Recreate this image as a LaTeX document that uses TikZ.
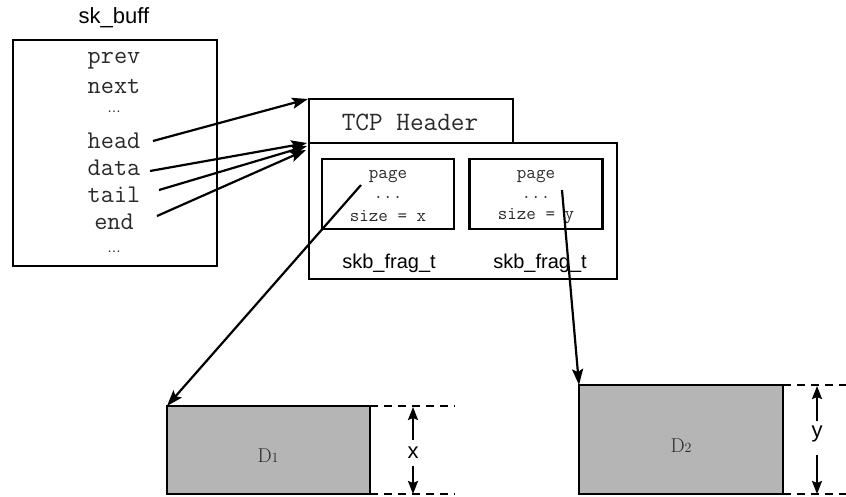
\documentclass[tikz,border=0pt]{standalone}
\usepackage{fontspec}
\setsansfont{Liberation Sans}
\usetikzlibrary{arrows.meta}
\definecolor{fieldtext}{HTML}{2A2A2A}
\definecolor{pagefill}{HTML}{B5B5B5}
\begin{document}
\begin{tikzpicture}[x=1pt,y=-1pt,line width=2.2pt,
  box/.style={draw=black,inner sep=0pt,outer sep=0pt},
  fld/.style={inner sep=0pt,text=fieldtext,font=\ttfamily\fontsize{25.5}{25.5}\selectfont},
  sfld/.style={inner sep=0pt,text=fieldtext,font=\ttfamily\fontsize{18.5}{18.5}\selectfont},
  captext/.style={inner sep=0pt,font=\sffamily\fontsize{20}{20}\selectfont},
  page/.style={box,fill=pagefill},
  ptr/.style={-{Stealth[length=16pt,width=11pt,inset=3pt]}},
  dimarrow/.style={-{Stealth[length=13pt,width=10pt,inset=2pt]}},
  guide/.style={dash pattern=on 8pt off 6pt,line width=1.8pt}]
\useasboundingbox (0,0) rectangle (846,496);

% sk_buff structure
\node[captext,font=\sffamily\fontsize{22}{22}\selectfont] (skblabel) at (114,18) {sk\_buff};
\node[box,minimum width=204pt,minimum height=226pt] (skb) at (115,153) {};
\node[fld] (prev) at (114,61) {prev};
\node[fld] (next) at (114,87) {next};
\node[fld,font=\sffamily\fontsize{14}{14}\selectfont] (dots1) at (114,112) {\dots};
\node[fld] (head) at (114,141) {head};
\node[fld] (data) at (114,168) {data};
\node[fld] (tail) at (114,195) {tail};
\node[fld] (end) at (114,222) {end};
\node[fld,font=\sffamily\fontsize{14}{14}\selectfont] (dots2) at (114,252) {\dots};

% linear data: header and fragment area
\node[box,minimum width=204pt,minimum height=44pt] (hdr) at (411,121) {};
\node[fld,font=\ttfamily\fontsize{26.5}{26.5}\selectfont] (hdrtext) at (410,122) {TCP Header};
\node[box,minimum width=308pt,minimum height=136pt] (frags) at (463,211) {};

\node[box,minimum width=132pt,minimum height=70pt] (frag1) at (388,194) {};
\node[sfld] (pg1text) at (388,177) {page};
\node[sfld] (dt1) at (388,197) {...};
\node[sfld] (sz1) at (388,216) {size = x};
\node[captext] (ft1) at (389,263) {skb\_frag\_t};

\node[box,minimum width=133pt,minimum height=70pt] (frag2) at (536,194) {};
\node[sfld] (pg2text) at (536,177) {page};
\node[sfld] (dt2) at (536,197) {...};
\node[sfld] (sz2) at (536,216) {size = y};
\node[captext] (ft2) at (540,263) {skb\_frag\_t};

% pointer origins
\coordinate (headptr) at (153,141);
\coordinate (dataptr) at (150,171);
\coordinate (tailptr) at (159,190);
\coordinate (endptr) at (157,216);
\coordinate (pg1) at (361,185);
\coordinate (pg2) at (562,190);

\draw[ptr] (headptr) -- ([xshift=-1pt]hdr.north west);
\draw[ptr] (dataptr) -- ([xshift=-2pt]frags.north west);
\draw[ptr] (tailptr) -- ([xshift=-2pt,yshift=-3pt]frags.north west);
\draw[ptr] (endptr) -- ([xshift=-3pt,yshift=-7pt]frags.north west);

% pages
\node[page,minimum width=203pt,minimum height=88pt] (d1) at (268.5,450) {};
\node[text=fieldtext,inner sep=0pt] (d1text) at (268,456) {\fontsize{20}{20}\selectfont D\fontsize{14}{14}\selectfont 1};
\node[page,minimum width=204pt,minimum height=109pt] (d2) at (681,439.5) {};
\node[text=fieldtext,inner sep=0pt] (d2text) at (681,446) {\fontsize{20}{20}\selectfont D\fontsize{14}{14}\selectfont 2};

\draw[ptr] (pg1) -- (d1.north west);
\draw[ptr] (pg2) -- (d2.north west);

% size of page 1
\coordinate (x1a) at (455,406);
\coordinate (x1b) at (455,494);
\draw[guide] (d1.north east) -- (x1a);
\draw[guide] (d1.south east) -- (x1b);
\node[captext,font=\sffamily\fontsize{22}{22}\selectfont] (xlab) at (413,453) {x};
\coordinate (xtop) at (413,407);
\coordinate (xbot) at (413,494);
\draw[dimarrow] ([yshift=6pt]xlab.north) -- (xtop);
\draw[dimarrow] ([yshift=-6pt]xlab.south) -- (xbot);

% size of page 2
\coordinate (y2a) at (846,385);
\coordinate (y2b) at (846,494);
\draw[guide] (d2.north east) -- (y2a);
\draw[guide] (d2.south east) -- (y2b);
\node[captext,font=\sffamily\fontsize{22}{22}\selectfont] (ylab) at (817,434) {y};
\coordinate (ytop) at (817,386);
\coordinate (ybot) at (817,494);
\draw[dimarrow] ([yshift=4pt]ylab.north) -- (ytop);
\draw[dimarrow] ([yshift=-12pt]ylab.south) -- (ybot);
\end{tikzpicture}
\end{document}
